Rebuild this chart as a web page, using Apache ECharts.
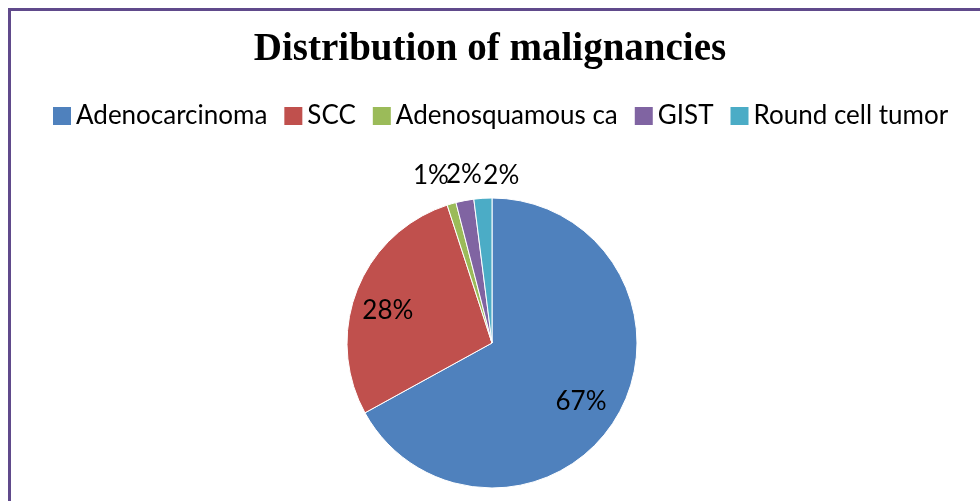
<!DOCTYPE html>
<html><head><meta charset="utf-8">
<script src="https://cdn.jsdelivr.net/npm/echarts@6/dist/echarts.min.js"></script>
<style>html,body{margin:0;padding:0;background:#fff}#c{width:980px;height:501px}</style>
</head><body><div id="c"></div>
<script>
const categories = ['Adenocarcinoma', 'SCC', 'Adenosquamous ca', 'GIST', 'Round cell tumor'];
const values = [67, 28, 1, 2, 2];
const colors = ['#4F81BD', '#C0504D', '#9BBB59', '#8064A2', '#4BACC6'];
const labelOffsets = [[24, 20], [-34, -5], [-40, -95], [-14, -94], [14, -92]];

const chart = echarts.init(document.getElementById('c'));
chart.setOption({
  animation: false,
  title: {
    text: 'Distribution of malignancies',
    left: 'center', top: 25,
    textStyle: { fontFamily: 'Liberation Serif', fontWeight: 'bold', fontSize: 39, color: '#000' }
  },
  legend: {
    top: 98, left: 48,
    itemWidth: 18, itemHeight: 18, itemGap: 17,
    icon: 'rect',
    itemStyle: { borderWidth: 0 },
    textStyle: { fontFamily: 'Lato', fontSize: 26, color: '#000', padding: [0, 0, 0, 0] },
    data: categories
  },
  graphic: [{
    type: 'rect', silent: true,
    shape: { x: 9.5, y: 9.5, width: 1100, height: 700 },
    style: { fill: 'none', stroke: '#604A8B', lineWidth: 3 }
  }],
  series: [{
    type: 'pie',
    center: [492, 343], radius: 145,
    startAngle: 90, clockwise: true,
    avoidLabelOverlap: false,
    labelLayout: { hideOverlap: false },
    itemStyle: { borderColor: '#fff', borderWidth: 1 },
    label: { position: 'inside', formatter: '{c}%', fontFamily: 'Lato', fontSize: 26, color: '#000' },
    labelLine: { show: false },
    data: categories.map((n, i) => ({
      name: n, value: values[i],
      itemStyle: { color: colors[i] },
      label: { offset: labelOffsets[i] }
    }))
  }]
});
</script></body></html>
